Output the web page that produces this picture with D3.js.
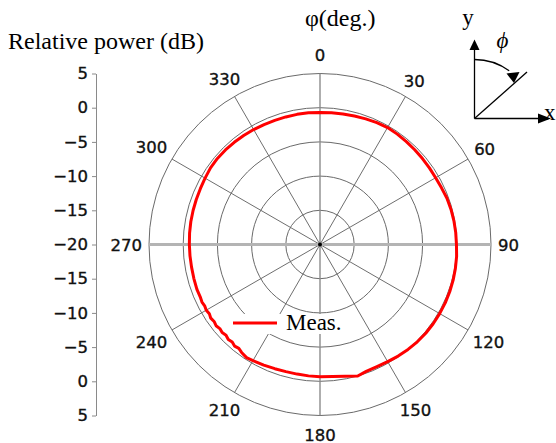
<!DOCTYPE html>
<html><head><meta charset="utf-8">
<script src="https://cdn.jsdelivr.net/npm/d3@7"></script>
<style>body{margin:0;background:#fff}svg{display:block}</style>
</head><body>
<svg id="c" width="556" height="443"></svg>
<script>
// ---- data ----
const angleTicks = [0,30,60,90,120,150,180,210,240,270,300,330];
const ringValues = [-15,-10,-5,0,5];
const axisTicks  = [25,20,15,10,5,0,-5,-10,-15,-20,-25]; // signed position, label = |v|-20
const measAngles = [0,5,10,15,20,25,30,35,40,45,50,55,60,65,70,75,80,85,90,95,
  100,105,110,115,120,125,130,135,140,145,150,155,160,164,
  180,185,190,195,200,205,210,213,216,
  218,220,222,224,226,228,230,232,234,236,238,240,242,244,246,
  250,255,260,265,270,275,280,285,290,295,300,305,310,315,320,325,330,335,340,345,350,355,360];
const measDb = [-0.70,-0.68,-0.62,-0.55,-0.45,-0.35,-0.26,-0.30,-0.36,-0.42,-0.45,-0.48,-0.48,-0.40,-0.25,-0.17,-0.12,-0.08,-0.05,0.05,
  0.10,0.15,0.18,0.20,0.20,0.20,0.18,0.12,0.02,-0.08,-0.22,-0.30,-0.25,0.00,
  -0.66,-0.72,-0.76,-0.76,-0.68,-0.55,-0.40,-0.28,-0.50,
  -0.72,-0.60,-0.82,-0.70,-0.90,-0.75,-0.88,-0.72,-0.86,-0.74,-0.92,-0.80,-0.90,-0.80,-0.88,
  -0.85,-0.90,-0.93,-0.92,-0.90,-0.86,-0.82,-0.79,-0.75,-0.70,-0.60,-0.46,-0.42,-0.45,-0.50,-0.55,-0.60,-0.65,-0.68,-0.69,-0.68,-0.66,-0.70];
const seriesName = "Meas.";

// ---- layout ----
const svg = d3.select("#c");
const cx = 320, cy = 244.5, R = 171;
const rScale = d3.scaleLinear().domain([-20, 5]).range([0, R]);
const yScale = d3.scaleLinear().domain([-25, 25]).range([cy + R, cy - R]);
const numFont = "'DejaVu Sans', sans-serif";
const numSize = 16.5;
const serif = "'Liberation Serif', 'Times New Roman', serif";
const rad = d => d * Math.PI / 180;

// left axis
const fmt = v => { const l = Math.abs(v) - 20; return l < 0 ? "\u2212" + Math.abs(l) : String(l); };
const ax = svg.append("g").attr("transform", "translate(96,0)")
  .call(d3.axisLeft(yScale).tickValues(axisTicks).tickFormat(fmt).tickSize(4).tickSizeOuter(0).tickPadding(4));
ax.select(".domain").attr("stroke", "#8a8a8a");
ax.selectAll(".tick line").attr("stroke", "#8a8a8a");
ax.selectAll(".tick text").attr("font-family", numFont).attr("font-size", numSize)
  .attr("fill", "#111").attr("stroke", "#111").attr("stroke-width", 0.35);

// polar grid
const g = svg.append("g").attr("transform", `translate(${cx},${cy})`);
g.selectAll("line.spoke").data(angleTicks.filter(a => a % 90 !== 0)).join("line")
  .attr("x1", 0).attr("y1", 0)
  .attr("x2", a => R * Math.sin(rad(a))).attr("y2", a => -R * Math.cos(rad(a)))
  .attr("stroke", "#6e6e6e").attr("stroke-width", 1);
g.selectAll("circle.ring").data(ringValues).join("circle")
  .attr("r", v => rScale(v)).attr("fill", "none")
  .attr("stroke", "#6a6a6a").attr("stroke-width", 1);
// horizontal & vertical axes
g.append("line").attr("x1", -R).attr("x2", R).attr("y1", 0).attr("y2", 0)
  .attr("stroke", "#b4b4b4").attr("stroke-width", 3);
g.append("line").attr("x1", 0).attr("x2", 0).attr("y1", -R).attr("y2", R)
  .attr("stroke", "#8c8c8c").attr("stroke-width", 1.4);
g.append("circle").attr("r", 2).attr("fill", "#000");

// angle labels
angleTicks.forEach(a => {
  const t = g.append("text").text(a).attr("font-family", numFont).attr("font-size", numSize)
    .attr("fill", "#111").attr("stroke", "#111").attr("stroke-width", 0.35).attr("text-anchor", "middle");
  const w = t.node().getComputedTextLength(), h = 12;
  const s = Math.sin(rad(a)), c = Math.cos(rad(a));
  const gap = 178 + (Math.abs(c) > 0.95 ? 6 : 0);
  const rr = gap + Math.abs(s) * w / 2 + Math.abs(c) * h / 2;
  t.attr("x", rr * s).attr("y", -rr * c + 6);
});

// measured curve
const pts = measAngles.map((a, i) => [a, measDb[i]]);
const line = d3.lineRadial().angle(d => rad(d[0])).radius(d => rScale(d[1]));
g.append("path").attr("d", line(pts)).attr("fill", "none")
  .attr("stroke", "#ff0000").attr("stroke-width", 3).attr("stroke-linejoin", "round");

// legend
const lg = svg.append("g");
lg.append("rect").attr("x", 229).attr("y", 314).attr("width", 117).attr("height", 20).attr("fill", "#fff");
lg.append("line").attr("x1", 233).attr("x2", 277).attr("y1", 323).attr("y2", 323)
  .attr("stroke", "#ff0000").attr("stroke-width", 3);
lg.append("text").attr("x", 286).attr("y", 330).text(seriesName)
  .attr("font-family", serif).attr("font-size", 23).attr("fill", "#000");

// titles
svg.append("text").attr("x", 8).attr("y", 49).text("Relative power (dB)")
  .attr("font-family", serif).attr("font-size", 24).attr("fill", "#000");
svg.append("text").attr("x", 305).attr("y", 26).text("\u03C6(deg.)")
  .attr("font-family", serif).attr("font-size", 24).attr("fill", "#000");

// coordinate inset
const ins = svg.append("g").attr("stroke", "#000").attr("stroke-width", 1.3).attr("fill", "none");
const ox = 474.5, oy = 118.5;
ins.append("line").attr("x1", ox).attr("y1", oy).attr("x2", ox).attr("y2", 48);
ins.append("line").attr("x1", ox).attr("y1", oy).attr("x2", 540).attr("y2", oy);
ins.append("line").attr("x1", ox).attr("y1", oy).attr("x2", 527).attr("y2", 72);
const arcR = 59, arcEnd = 36;
ins.append("path").attr("d", d3.arc()({innerRadius: arcR, outerRadius: arcR, startAngle: 0, endAngle: rad(arcEnd)}))
  .attr("transform", `translate(${ox},${oy})`);
const tri = p => "M" + p.map(q => q.join(",")).join("L") + "Z";
ins.append("path").attr("d", tri([[ox, 39.5], [ox - 5, 50], [ox + 5, 50]])).attr("fill", "#000").attr("stroke", "none");
ins.append("path").attr("d", tri([[551, oy], [538, oy - 5], [538, oy + 5]])).attr("fill", "#000").attr("stroke", "none");
ins.append("path").attr("d", tri([[514, 83], [506.5, 73.5], [519.5, 72]])).attr("fill", "#000").attr("stroke", "none");
svg.append("text").attr("x", 468).attr("y", 25).attr("text-anchor", "middle").text("y")
  .attr("font-family", serif).attr("font-size", 23);
svg.append("text").attr("x", 544).attr("y", 120).text("x")
  .attr("font-family", serif).attr("font-size", 23);
svg.append("text").attr("x", 502.5).attr("y", 48).attr("text-anchor", "middle").text("\u03D5")
  .attr("font-family", serif).attr("font-style", "italic").attr("font-size", 23);
</script>
</body></html>
